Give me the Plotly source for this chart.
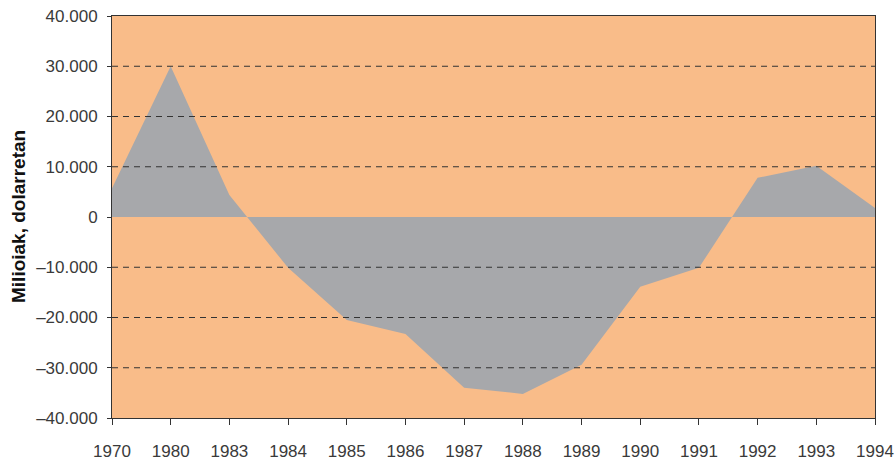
import plotly.graph_objects as go

years = ["1970", "1980", "1983", "1984", "1985", "1986", "1987", "1988",
         "1989", "1990", "1991", "1992", "1993", "1994"]
balance = [5700, 30000, 4400, -10100, -20500, -23300, -34000, -35200,
           -29400, -13900, -10100, 7800, 10200, 1800]
y_ticks = [40000, 30000, 20000, 10000, 0, -10000, -20000, -30000, -40000]
y_labels = ["40.000", "30.000", "20.000", "10.000", "0", "\u201310.000",
            "\u201320.000", "\u201330.000", "\u201340.000"]
grid_levels = [30000, 20000, 10000, -10000, -20000, -30000]

fig = go.Figure()
fig.add_trace(go.Scatter(
    x=list(range(len(years))), y=balance, mode="lines",
    line=dict(width=0, color="#A7A8AB"), fill="tozeroy",
    fillcolor="#A7A8AB", hoverinfo="skip", showlegend=False))

for g in grid_levels:
    fig.add_shape(type="line", xref="paper", x0=0, x1=1, yref="y", y0=g, y1=g,
                  line=dict(color="#333333", width=1, dash="6px,5px"))

font = dict(family="Liberation Sans, Arial, sans-serif", size=17, color="#3a3a3a")
fig.update_layout(
    width=895, height=460,
    margin=dict(l=112, r=20, t=16, b=42, autoexpand=False),
    paper_bgcolor="white", plot_bgcolor="#F9BC89",
    font=font,
    xaxis=dict(range=[0, len(years) - 1], tickmode="array",
               tickvals=list(range(len(years))), ticktext=years,
               showgrid=False, zeroline=False, showline=True, linecolor="#333333",
               linewidth=1, mirror=True, ticks="outside", ticklen=6,
               tickcolor="#333333", ticklabelstandoff=12, tickfont=font,
               automargin=False),
    yaxis=dict(range=[-40000, 40000], tickmode="array", tickvals=y_ticks,
               ticktext=y_labels, showgrid=False, zeroline=False, showline=True,
               linecolor="#333333", linewidth=1, mirror=True, ticks="outside",
               ticklen=4, tickcolor="#333333", ticklabelstandoff=6, tickfont=font,
               automargin=False),
    annotations=[dict(text="<b>Milioiak, dolarretan</b>", xref="paper", yref="paper",
                      x=(18 - 112) / 763, y=0.5, xanchor="center", yanchor="middle",
                      textangle=-90, showarrow=False,
                      font=dict(family="Liberation Sans, Arial, sans-serif",
                                size=19, color="#111111"))],
)
fig.write_html("out.html", config={"displayModeBar": False},
               post_script="document.body.style.margin='0';")
